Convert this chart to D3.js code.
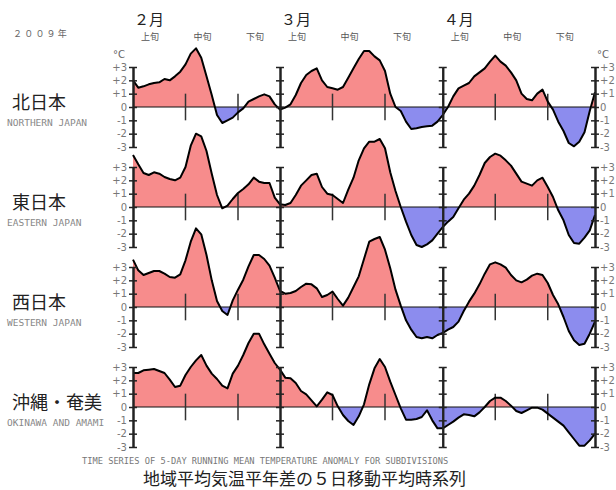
<!DOCTYPE html>
<html>
<head>
<meta charset="utf-8">
<script src="https://cdn.jsdelivr.net/npm/d3@7"></script>
<style>
  body { margin: 0; background: #fff; }
  .tick text { font-family: "DejaVu Sans", sans-serif; }
</style>
</head>
<body>
<svg id="chart" width="616" height="490"></svg>
<script>
// region names
var regions = ["北日本", "東日本", "西日本", "沖縄・奄美"];
var regionsEn = ["NORTHERN JAPAN", "EASTERN JAPAN", "WESTERN JAPAN", "OKINAWA AND AMAMI"];

// 5-day running mean anomaly, one value per day from Feb 1 to Apr 30 2009
var northern = [2.0, 1.45, 1.55, 1.7, 1.8, 1.85, 2.1, 2.0, 2.3, 2.65,
  3.2, 4.0, 4.4, 3.7, 2.3, 0.9, -0.6, -1.2, -1.0, -0.8,
  -0.4, -0.1, 0.4, 0.6, 0.8, 0.95, 0.8, 0.2, -0.2, -0.05,
  0.2, 0.9, 1.8, 2.4, 2.7, 2.9, 2.0, 1.5, 1.4, 1.3,
  1.5, 2.2, 2.9, 3.6, 4.2, 4.2, 3.8, 3.5, 2.7, 1.0,
  0.0, -0.3, -1.1, -1.65, -1.6, -1.5, -1.45, -1.4, -1.1, -0.6,
  0.0, 0.8, 1.4, 1.6, 1.8, 2.3, 2.6, 2.9, 3.4, 3.85,
  3.4, 3.1, 2.6, 2.0, 1.0, 0.6, 0.5, 1.0, 1.3, 0.4,
  -0.2, -1.1, -1.8, -2.7, -2.95, -2.6, -1.9, -0.3, 1.1];
var eastern = [3.9, 3.2, 2.55, 2.4, 2.6, 2.5, 2.25, 2.1, 2.0, 2.2,
  3.0, 4.6, 5.5, 5.3, 4.2, 2.5, 0.9, -0.1, 0.1, 0.6,
  1.05, 1.35, 1.7, 2.2, 1.9, 1.8, 1.8, 0.7, 0.2, 0.15,
  0.3, 0.9, 1.6, 2.0, 2.4, 2.5, 1.5, 1.0, 0.9, 0.6,
  0.3, 1.3, 2.2, 3.5, 4.4, 4.9, 4.9, 5.1, 4.4, 2.6,
  1.2, 0.0, -1.1, -2.1, -2.85, -3.0, -2.8, -2.5, -2.0, -1.5,
  -1.1, -0.75, -0.1, 0.55, 1.0, 1.6, 2.4, 3.3, 3.75, 4.0,
  3.85, 3.5, 3.1, 2.5, 1.9, 1.75, 1.6, 2.0, 2.2, 1.5,
  0.75, -0.25, -1.0, -2.1, -2.7, -2.75, -2.3, -1.75, -0.6];
var western = [3.55, 2.75, 2.4, 2.55, 2.7, 2.7, 2.5, 2.25, 2.2, 2.45,
  3.5, 4.9, 5.9, 5.45, 3.9, 2.0, 0.45, -0.3, -0.6, 0.5,
  1.3, 2.05, 3.05, 3.9, 3.9, 3.6, 3.1, 2.2, 1.2, 1.0,
  1.05, 1.2, 1.5, 1.75, 1.7, 1.4, 0.75, 0.9, 1.15, 0.6,
  0.1, 0.7, 1.5, 2.3, 3.6, 4.9, 5.1, 5.25, 4.3, 2.9,
  1.3, 0.1, -1.0, -1.7, -2.25, -2.35, -2.25, -2.35, -2.1, -1.95,
  -1.7, -1.5, -1.1, -0.3, 0.4, 1.0, 1.7, 2.5, 3.2, 3.35,
  3.2, 2.95, 2.4, 2.0, 1.85, 2.05, 2.35, 2.5, 2.4, 1.8,
  0.9, 0.2, -0.75, -1.8, -2.5, -2.85, -2.75, -2.0, -1.1];
var okinawa = [2.55, 2.55, 2.75, 2.8, 2.85, 2.7, 2.55, 2.05, 1.5, 1.6,
  2.4, 3.0, 3.5, 3.9, 3.1, 2.5, 2.1, 1.6, 1.4, 2.5,
  3.1, 3.9, 4.8, 5.5, 5.5, 4.7, 4.0, 3.3, 2.8, 2.2,
  2.15, 1.8, 1.2, 0.95, 0.5, 0.05, 0.55, 1.1, 0.9, 0.05,
  -0.6, -1.05, -1.35, -0.7, 0.2, 1.7, 2.9, 3.6, 3.0, 1.9,
  0.9, -0.1, -0.95, -0.95, -0.9, -0.75, -0.25, -1.0, -1.6, -1.6,
  -1.35, -1.1, -0.8, -0.55, -0.6, -0.7, -0.4, 0.0, 0.45, 0.7,
  0.7, 0.45, 0.1, -0.3, -0.45, -0.25, -0.05, -0.05, -0.2, -0.5,
  -0.8, -1.1, -1.4, -1.9, -2.4, -2.9, -2.9, -2.5, -2.0];
var series = [northern, eastern, western, okinawa];

// header / tick labels
var months = ["２月", "３月", "４月"];
var monthStarts = ["2009-02-01", "2009-03-01", "2009-04-01"];
var dekads = ["上旬", "中旬", "下旬"];
var dekadTicks = ["2009-02-11", "2009-02-21", "2009-03-11", "2009-03-21", "2009-04-11", "2009-04-21"];
var yTicks = [3, 2, 1, 0, -1, -2, -3];

var parse = d3.timeParse("%Y-%m-%d");
var start = parse("2009-02-01");

var svg = d3.select("#chart");

var x = d3.scaleTime()
    .domain([start, parse("2009-04-30")])
    .range([133, 595]);

var fmt = function (d) { return d > 0 ? "+" + d : String(d); };

// header
svg.append("text")
    .attr("x", 13).attr("y", 37)
    .attr("font-family", "Noto Sans CJK JP").attr("font-size", 9)
    .attr("letter-spacing", 2.2).attr("fill", "#666")
    .text("２００９年");

monthStarts.forEach(function (m, i) {
    var d = parse(m);
    svg.append("text")
        .attr("x", x(d) + 1).attr("y", 25)
        .attr("font-family", "Noto Sans CJK JP").attr("font-size", 15)
        .attr("fill", "#222")
        .text(months[i]);
    [0, 10, 20].forEach(function (off, j) {
        svg.append("text")
            .attr("x", x(d3.timeDay.offset(d, off)) + 8).attr("y", 40)
            .attr("font-family", "Noto Sans CJK JP").attr("font-size", 9)
            .attr("fill", "#555")
            .text(dekads[j]);
    });
});

// °C labels
svg.append("text").attr("x", 113).attr("y", 58)
    .attr("font-family", "DejaVu Sans").attr("font-size", 10).attr("fill", "#666").text("°C");
svg.append("text").attr("x", 597).attr("y", 58)
    .attr("font-family", "DejaVu Sans").attr("font-size", 10).attr("fill", "#666").text("°C");

series.forEach(function (vals, p) {
    var zero = 107 + p * 100;
    var y = d3.scaleLinear().domain([-3, 3]).range([zero + 40, zero - 40]);
    var data = vals.map(function (v, i) {
        return { date: d3.timeDay.offset(start, i), v: v };
    });
    var g = svg.append("g");

    // clip regions above and below zero
    g.append("clipPath").attr("id", "above" + p)
        .append("rect").attr("x", 0).attr("y", zero - 120).attr("width", 616).attr("height", 120);
    g.append("clipPath").attr("id", "below" + p)
        .append("rect").attr("x", 0).attr("y", zero).attr("width", 616).attr("height", 120);

    var area = d3.area()
        .x(function (d) { return x(d.date); })
        .y0(y(0))
        .y1(function (d) { return y(d.v); });
    var line = d3.line()
        .x(function (d) { return x(d.date); })
        .y(function (d) { return y(d.v); });

    g.append("path").datum(data).attr("d", area)
        .attr("fill", "#f78c8c").attr("clip-path", "url(#above" + p + ")");
    g.append("path").datum(data).attr("d", area)
        .attr("fill", "#8c8cee").attr("clip-path", "url(#below" + p + ")");

    // zero line
    g.append("line")
        .attr("x1", x.range()[0]).attr("x2", x.range()[1])
        .attr("y1", y(0)).attr("y2", y(0))
        .attr("stroke", "#111").attr("stroke-width", 1.2);

    // dekad ticks
    g.selectAll(".dek").data(dekadTicks).enter().append("line")
        .attr("x1", function (d) { return x(parse(d)); })
        .attr("x2", function (d) { return x(parse(d)); })
        .attr("y1", y(1)).attr("y2", y(-1))
        .attr("stroke", "#333").attr("stroke-width", 1.5);

    g.append("path").datum(data).attr("d", line)
        .attr("fill", "none").attr("stroke", "#000")
        .attr("stroke-width", 2).attr("stroke-linejoin", "round");

    // vertical axes: left, month boundaries, right
    var axisDates = [start, parse("2009-03-01"), parse("2009-04-01"), parse("2009-04-30")];
    axisDates.forEach(function (d, k) {
        var ax = g.append("g").attr("transform", "translate(" + x(d) + ",0)");
        ax.call(d3.axisLeft(y).tickValues(yTicks).tickSize(4).tickSizeOuter(0)
            .tickFormat(k === 0 ? fmt : ""));
        var ax2 = g.append("g").attr("transform", "translate(" + x(d) + ",0)");
        ax2.call(d3.axisRight(y).tickValues(yTicks).tickSize(4).tickSizeOuter(0)
            .tickFormat(k === 3 ? fmt : ""));
        [ax, ax2].forEach(function (a) {
            a.select(".domain").attr("stroke", "#222").attr("stroke-width", 2);
            a.selectAll(".tick line").attr("stroke", "#222").attr("stroke-width", 1.5);
            a.selectAll(".tick text").attr("fill", "#777").attr("font-size", 10);
        });
        ax.selectAll(".tick text").attr("x", -6);
        ax2.selectAll(".tick text").attr("x", 5);
    });

    // region labels
    svg.append("text")
        .attr("x", 12).attr("y", zero + 2)
        .attr("font-family", "Noto Sans CJK JP").attr("font-size", 18)
        .attr("fill", "#222")
        .text(regions[p]);
    svg.append("text")
        .attr("x", 7).attr("y", zero + 19)
        .attr("font-family", "DejaVu Sans Mono").attr("font-size", 9.5)
        .attr("fill", "#888")
        .text(regionsEn[p]);
});

// bottom captions
svg.append("text")
    .attr("x", 82).attr("y", 464)
    .attr("font-family", "DejaVu Sans Mono").attr("font-size", 8.7)
    .attr("fill", "#777")
    .text("TIME SERIES OF 5-DAY RUNNING MEAN TEMPERATURE ANOMALY FOR SUBDIVISIONS");
svg.append("text")
    .attr("x", 143).attr("y", 485)
    .attr("font-family", "Noto Sans CJK JP").attr("font-size", 17)
    .attr("fill", "#222")
    .text("地域平均気温平年差の５日移動平均時系列");
</script>
</body>
</html>
